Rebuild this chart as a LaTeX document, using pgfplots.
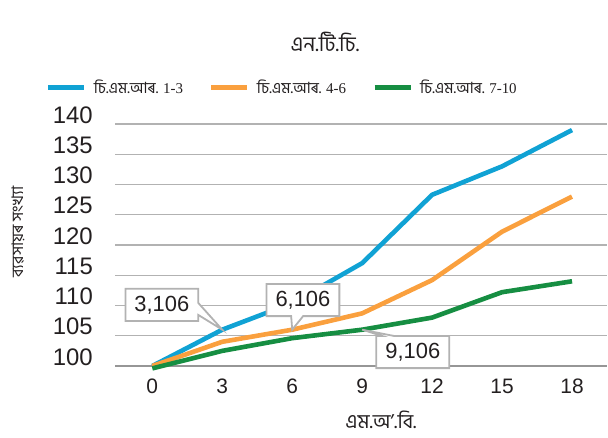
\documentclass[border=0pt]{standalone}
\usepackage{fontspec}
\setmainfont{Liberation Sans}
\newfontfamily\bn[Script=Bengali]{Hind Siliguri}
\newfontfamily\tms{Liberation Serif}
\usepackage{pgfplots}
\pgfplotsset{compat=1.18}
\usetikzlibrary{shapes.callouts}

\definecolor{cblue}{RGB}{16,162,212}
\definecolor{corange}{RGB}{250,160,62}
\definecolor{cgreen}{RGB}{22,142,66}
\definecolor{gridgray}{RGB}{178,178,178}
\definecolor{axisgray}{RGB}{150,150,150}
\definecolor{txt}{RGB}{35,31,32}

\begin{document}
\begin{tikzpicture}[x=1bp,y=1bp]
\path[use as bounding box] (0,0) rectangle (608,438);

\begin{axis}[
  at={(115bp,72bp)}, anchor=south west, scale only axis,
  width=492bp, height=242bp,
  xmin=-1.6, xmax=19.5, ymin=100, ymax=140,
  xtick={0,3,...,18}, ytick={100,105,...,140},
  ymajorgrids, grid style={gridgray, line width=1.4bp},
  axis x line*=bottom, axis y line*=left,
  x axis line style={draw=axisgray, line width=1.6bp, -},
  y axis line style={draw=none},
  major tick length=0,
  clip=false,
  /pgf/number format/assume math mode=true,
  xticklabel style={font=\fontsize{21}{21}\selectfont, text=txt, anchor=north, inner sep=0pt, yshift=-13bp},
  yticklabel style={font=\fontsize{24}{24}\selectfont, text=txt, anchor=east, inner sep=0pt, xshift=-22bp, yshift=9bp},
  legend style={at={(0.34,1.149)}, anchor=center, draw=none, fill=none,
    legend columns=3, font=\bn\fontsize{15.5}{18}\selectfont, text=txt, inner sep=0pt,
    /tikz/every odd column/.append style={column sep=5bp},
    /tikz/every even column/.append style={column sep=24bp}},
  legend image code/.code={\draw[line width=5bp] (0bp,0bp) -- (36bp,0bp);},
  every axis plot/.append style={line width=4.6bp, line join=round},
]
\addplot[cblue] coordinates {(0,100) (3,106) (6,110.4) (9,117) (12,128.3) (15,133) (18,139)};
\addlegendentry{চি.এম.আৰ. {\tms\fontsize{15}{18}\selectfont 1-3}}
\addplot[corange] coordinates {(0,100) (3,104) (6,106) (9,108.7) (12,114.2) (15,122.2) (18,128)};
\addlegendentry{চি.এম.আৰ. {\tms\fontsize{15}{18}\selectfont 4-6}}
\addplot[cgreen] coordinates {(0,99.6) (3,102.5) (6,104.6) (9,106) (12,108) (15,112.2) (18,114)};
\addlegendentry{চি.এম.আৰ. {\tms\fontsize{15}{18}\selectfont 7-10}}

% data callouts
\tikzset{callbox/.style={rectangle callout, fill=white, draw=gridgray, line width=1.8bp,
  callout pointer width=12bp, font=\fontsize{22}{22}\selectfont, text=txt,
  inner xsep=9bp, inner ysep=7bp}}
\node[callbox, callout absolute pointer={(axis cs:3,106)}] at (axis cs:0.41,110.1) {3,106};
\node[callbox, callout absolute pointer={(axis cs:6,106)}] at (axis cs:6.46,110.9) {6,106};
\node[callbox, callout absolute pointer={(axis cs:9,106)}] at (axis cs:11.17,102.3) {9,106};
\end{axis}

\node[font=\bn\fontsize{21}{24}\selectfont, text=txt] at (325,396) {এন.টি.চি.};
\node[font=\bn\fontsize{20}{22}\selectfont, text=txt, anchor=base] at (381,9) {এম.অ’.বি.};
\node[font=\bn\fontsize{16}{18}\selectfont, text=txt, rotate=90] at (18,206) {ব্যৱসায়ৰ সংখ্যা};
\end{tikzpicture}
\end{document}
